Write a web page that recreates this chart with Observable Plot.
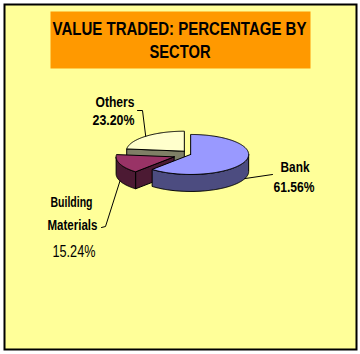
<!DOCTYPE html>
<html><head><meta charset="utf-8">
<script src="https://cdn.jsdelivr.net/npm/d3@7"></script>
<script src="https://cdn.jsdelivr.net/npm/@observablehq/plot@0.6"></script>
<style>
html,body{margin:0;padding:0;background:#fff;}
#chart svg{display:block;}
</style></head><body><div id="chart"></div>
<script>
// ---- data ----
const titleLines = ["VALUE TRADED: PERCENTAGE BY", "SECTOR"];
const sectors = ["Bank", "Building Materials", "Others"];
const shares = [61.56, 15.24, 23.20];
const shareLabels = ["61.56%", "15.24%", "23.20%"];

// ---- styles / layout ----
const topColors = ["#9999FF", "#993366", "#FFFFCC"];
const sideColors = ["#4C4C80", "#4C1A33", "#7F7F66"];
const explode = [0.095, 0.21, 0.03];       // fraction of radius, along slice mid-angle
const drawOrder = [2, 1, 0];               // back to front
const W = 360, H = 354;
const cx = 185, cy = 152, rx = 58, ry = 20, depth = 17;
const K = rx / ry, D = depth / ry;

// text layout: left x, baseline, target width, size, weight
const textItems = [
  {text: titleLines[0], x: 52, base: 34, w: 254, size: 18, weight: "bold"},
  {text: titleLines[1], x: 149, base: 57, w: 61, size: 18, weight: "bold"},
  {text: sectors[2], x: 95, base: 106.5, w: 39, size: 15, weight: "bold"},
  {text: shareLabels[2], x: 92, base: 124.5, w: 42, size: 15, weight: "bold"},
  {text: sectors[0], x: 280, base: 171, w: 29, size: 15, weight: "bold"},
  {text: shareLabels[0], x: 273, base: 191, w: 41, size: 15, weight: "bold"},
  {text: "Building", x: 50, base: 206.5, w: 42, size: 15, weight: "bold"},
  {text: "Materials", x: 47, base: 229, w: 50, size: 15, weight: "bold"},
  {text: shareLabels[1], x: 52, base: 256.5, w: 43, size: 16, weight: "normal"}
];
// leader-line label ends (px), per slice
const leaderEnds = [[[272, 174]], [[101, 227], [105, 226]], [[137, 110], [142, 110]]];
const leaderOnTop = [false, false, true];

// ---- geometry ----
const total = d3.sum(shares);
let acc = 0;
const slices = sectors.map((name, i) => {
  const a0 = acc / total * 2 * Math.PI; acc += shares[i];
  const a1 = acc / total * 2 * Math.PI;
  return {i, name, a0, a1, mid: (a0 + a1) / 2};
});
function off(s) { return [explode[s.i] * Math.sin(s.mid), -explode[s.i] * Math.cos(s.mid) * K]; }
function rim(s, t, down = 0) { const [ox, oy] = off(s); return [ox + Math.sin(t), oy - Math.cos(t) + down]; }
function ctr(s, down = 0) { const [ox, oy] = off(s); return [ox, oy + down]; }
function arcPts(s, t0, t1, down) {
  const n = Math.max(2, Math.ceil(Math.abs(t1 - t0) / (Math.PI / 180)));
  return d3.range(n + 1).map(k => rim(s, t0 + (t1 - t0) * k / n, down));
}
const faces = [];
let fid = 0;
function addPoly(pts, fill) {
  const id = fid++;
  [...pts, pts[0]].forEach(([x, y]) => faces.push({id, x, y, fill}));
}
for (const idx of drawOrder) {
  const s = slices[idx];
  const side = sideColors[idx];
  // radial faces
  [[s.a0, s.a0 - Math.PI / 2], [s.a1, s.a1 + Math.PI / 2]].forEach(([a, phi]) => {
    if (Math.cos(phi) < -1e-6) addPoly([ctr(s), rim(s, a), rim(s, a, D), ctr(s, D)], side);
  });
  // outer wall (front half only)
  const s0 = Math.max(s.a0, Math.PI / 2), s1 = Math.min(s.a1, 3 * Math.PI / 2);
  if (s1 > s0) addPoly([...arcPts(s, s0, s1, 0), ...arcPts(s, s1, s0, D)], side);
  // top
  addPoly([ctr(s), ...arcPts(s, s.a0, s.a1, 0)], topColors[idx]);
}
// leader lines
const leaders = [];
slices.forEach((s, i) => {
  const a = leaderOnTop[i] ? rim(s, s.mid, 0) : rim(s, s.mid, D);
  const pts = [...leaderEnds[i].map(([px, py]) => [(px - cx) / rx, (py - cy) / ry]), a];
  pts.forEach(([x, y]) => leaders.push({id: i, x, y}));
});

const fontFam = "'Liberation Sans Narrow','Arial Narrow','Liberation Sans',Arial,sans-serif";

const chart = Plot.plot({
  width: W, height: H, margin: 0,
  x: {domain: [-1, 1], range: [cx - rx, cx + rx], axis: null},
  y: {domain: [-1, 1], range: [cy - ry, cy + ry], axis: null},
  color: {type: "identity"},
  marks: [
    Plot.frame({fill: "#FFFF99", stroke: "black", strokeWidth: 2, insetLeft: 4, insetTop: 4, insetRight: 4, insetBottom: 5}),
    Plot.frame({fill: "#FF9900", stroke: null, insetLeft: 50, insetRight: 50, insetTop: 11, insetBottom: H - 68}),
    Plot.line(faces, {x: "x", y: "y", z: "id", fill: "fill", stroke: "black", strokeWidth: 1, strokeLinejoin: "miter", curve: "linear"}),
    Plot.line(leaders, {x: "x", y: "y", z: "id", stroke: "black", strokeWidth: 1, curve: "linear"}),
    ...textItems.map(t => Plot.text([t], {
      text: d => d.text, frameAnchor: "top-left", dx: t.x, dy: t.base,
      textAnchor: "start", lineAnchor: "bottom",
      fontSize: t.size, fontWeight: t.weight, fontFamily: fontFam, fill: "black"
    }))
  ]
});
document.getElementById("chart").appendChild(chart);
const texts = chart.querySelectorAll('g[aria-label="text"] text');
texts.forEach((el, k) => {
  if (textItems[k]) {
    el.setAttribute("textLength", textItems[k].w);
    el.setAttribute("lengthAdjust", "spacingAndGlyphs");
  }
});
</script></body></html>
